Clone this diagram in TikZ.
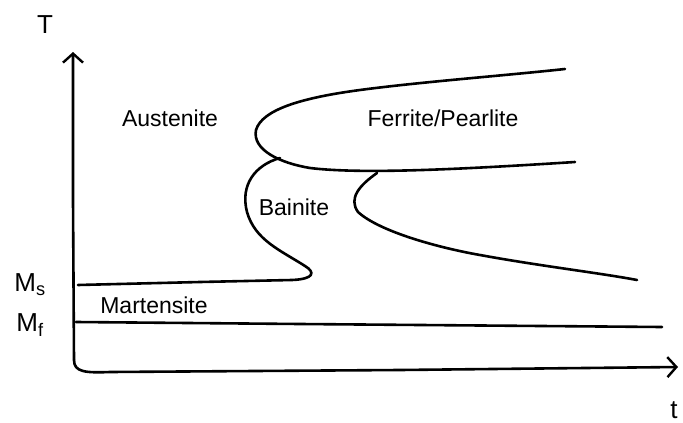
\documentclass[tikz,border=0pt]{standalone}
\usepackage{fontspec}
\setmainfont{Liberation Sans}
\usetikzlibrary{arrows.meta}

\begin{document}
\begin{tikzpicture}[x=1pt, y=-1pt]
    \tikzset{
        curve/.style={
            line width=2.6pt, line cap=round, line join=round
        },
        axis/.style={
            curve, -{Straight Barb[length=9pt, width=20pt, line width=2.4pt]}
        },
        phase/.style={
            font=\fontsize{23}{26}\selectfont, inner sep=0pt
        },
        axlabel/.style={
            font=\fontsize{26}{30}\selectfont, inner sep=0pt
        },
    }
    \useasboundingbox (0,0) rectangle (683,423);

    % ==== Axes ====
    \coordinate (ytip) at (73,52);
    \coordinate (xtip) at (678,367);
    \coordinate (origin) at (74,360);
    \draw[axis] (origin) .. controls (74,372) and (85,373) .. (110,372)
        -- (400,370) -- (xtip);
    \draw[axis] (origin) -- (73,200) -- (ytip);
    \node[axlabel] (tlabel) at (45,25) {T};
    \node[axlabel] (timelabel) at (674,410) {t};

    % ==== Ms and Mf ====
    \node[axlabel] (ms) at (30,285) {M\textsubscript{s}};
    \node[axlabel] (mf) at (30,325) {M\textsubscript{f}};
    \draw[curve] (78,285) -- (200,282) -- (292,280)
        .. controls (315,279) and (315,272) .. (305,266)
        .. controls (280,250) and (255,240) .. (247,212)
        .. controls (240,185) and (255,165) .. (280,158);
    \draw[curve] (76,322) -- (300,324) -- (662,327);

    % ==== Ferrite / pearlite nose ====
    \draw[curve] (565,69) .. controls (500,76) and (420,82) .. (360,90)
        .. controls (300,98) and (262,110) .. (256,130)
        .. controls (252,150) and (280,163) .. (310,168)
        .. controls (360,174) and (450,170) .. (575,162);

    % ==== Bainite nose ====
    \draw[curve] (377,173) .. controls (360,185) and (348,198) .. (358,212)
        .. controls (380,232) and (440,248) .. (480,255)
        .. controls (540,266) and (600,273) .. (637,280);

    % ==== Phase labels ====
    \node[phase] (aust) at (170,118) {Austenite};
    \node[phase] (ferr) at (443,118) {Ferrite/Pearlite};
    \node[phase] (bain) at (294,207) {Bainite};
    \node[phase] (mart) at (154,305) {Martensite};
\end{tikzpicture}
\end{document}
